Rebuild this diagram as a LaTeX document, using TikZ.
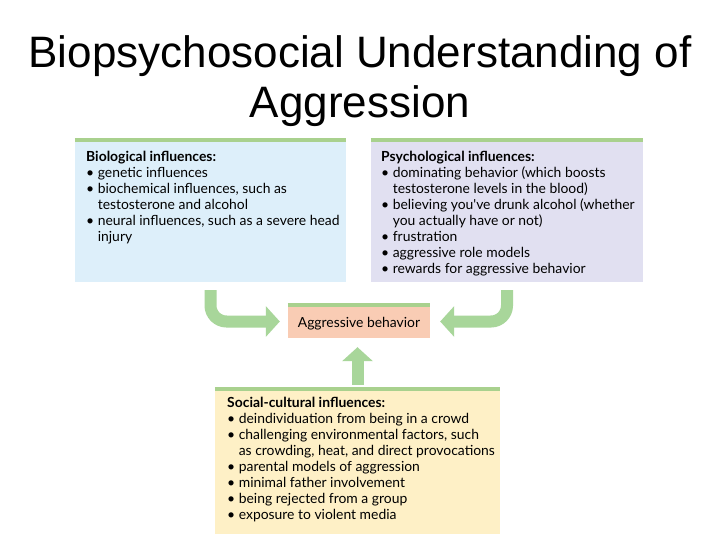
\documentclass[tikz,border=0pt]{standalone}
\usepackage{fontspec}
\setmainfont{Liberation Sans}
\newfontfamily\boxfont{Lato}
\usetikzlibrary{arrows.meta, positioning}
\definecolor{barGreen}{HTML}{A9D18E}
\definecolor{arrowGreen}{HTML}{A8D69A}
\definecolor{bioBlue}{HTML}{DDEFFA}
\definecolor{psyLilac}{HTML}{E1E0F1}
\definecolor{aggSalmon}{HTML}{F9CCB4}
\definecolor{socYellow}{HTML}{FEF0C6}

\newcommand{\bul}{\textbullet\ }
\newcommand{\ind}{\phantom{\textbullet\ }}

\tikzset{
  panel/.style={draw=none, inner sep=0pt},
  listtext/.style={anchor=base west, inner sep=0pt, align=left,
    font=\boxfont\fontsize{13.9}{16}\selectfont},
  topbar/.style={draw=barGreen, line width=4pt},
  flow/.style={draw=arrowGreen, line width=12pt, rounded corners=16pt,
    -{Triangle[length=14pt,width=30pt]}}
}

\begin{document}
\begin{tikzpicture}[x=1pt, y=-1pt]
  \useasboundingbox[fill=white] (0,0) rectangle (720,540);

  % title (base = baseline of its last line)
  \node[font=\fontsize{44}{50}\selectfont, align=center, anchor=base] (title) at (360,118)
    {Biopsychosocial Understanding of\\Aggression};

  % the four panels
  \node[panel, fill=bioBlue, minimum width=271pt, minimum height=142pt] (bio) at (210.5,211) {};
  \node[panel, fill=psyLilac, minimum width=272pt, minimum height=142pt] (psych) at (507,211) {};
  \node[panel, fill=aggSalmon, minimum width=142pt, minimum height=33pt] (aggr) at (359,321.5) {};
  \node[panel, fill=socYellow, minimum width=285pt, minimum height=145pt] (soc) at (357.5,461.5) {};

  \draw[topbar] (bio.north west) -- (bio.north east);
  \draw[topbar] (psych.north west) -- (psych.north east);
  \draw[topbar] (aggr.north west) -- (aggr.north east);
  \draw[topbar] (soc.north west) -- (soc.north east);

  % panel texts, placed by the baseline of the last line
  \node[listtext] (biotext) at (86,241) {%
    \textbf{Biological influences:}\\
    \bul genetic influences\\
    \bul biochemical influences, such as\\
    \ind testosterone and alcohol\\
    \bul neural influences, such as a severe head\\
    \ind injury};
  \node[listtext] (psychtext) at (381,273) {%
    \textbf{Psychological influences:}\\
    \bul dominating behavior (which boosts\\
    \ind testosterone levels in the blood)\\
    \bul believing you've drunk alcohol (whether\\
    \ind you actually have or not)\\
    \bul frustration\\
    \bul aggressive role models\\
    \bul rewards for aggressive behavior};
  \node[font=\boxfont\fontsize{13.9}{16}\selectfont, anchor=base] (aggrtext) at (359,327)
    {Aggressive behavior};
  \node[listtext] (soctext) at (227,519) {%
    \textbf{Social-cultural influences:}\\
    \bul deindividuation from being in a crowd\\
    \bul challenging environmental factors, such\\
    \ind as crowding, heat, and direct provocations\\
    \bul parental models of aggression\\
    \bul minimal father involvement\\
    \bul being rejected from a group\\
    \bul exposure to violent media};

  % arrows into the middle box
  \draw[flow, shorten <=8pt, shorten >=8pt] (bio.south) |- (aggr.west);
  \draw[flow, shorten <=8pt, shorten >=10pt] (psych.south) |- (aggr.east);
  \draw[flow, shorten <=4pt, shorten >=9pt] (soc.north) -- (soc.north |- aggr.south);
\end{tikzpicture}
\end{document}
